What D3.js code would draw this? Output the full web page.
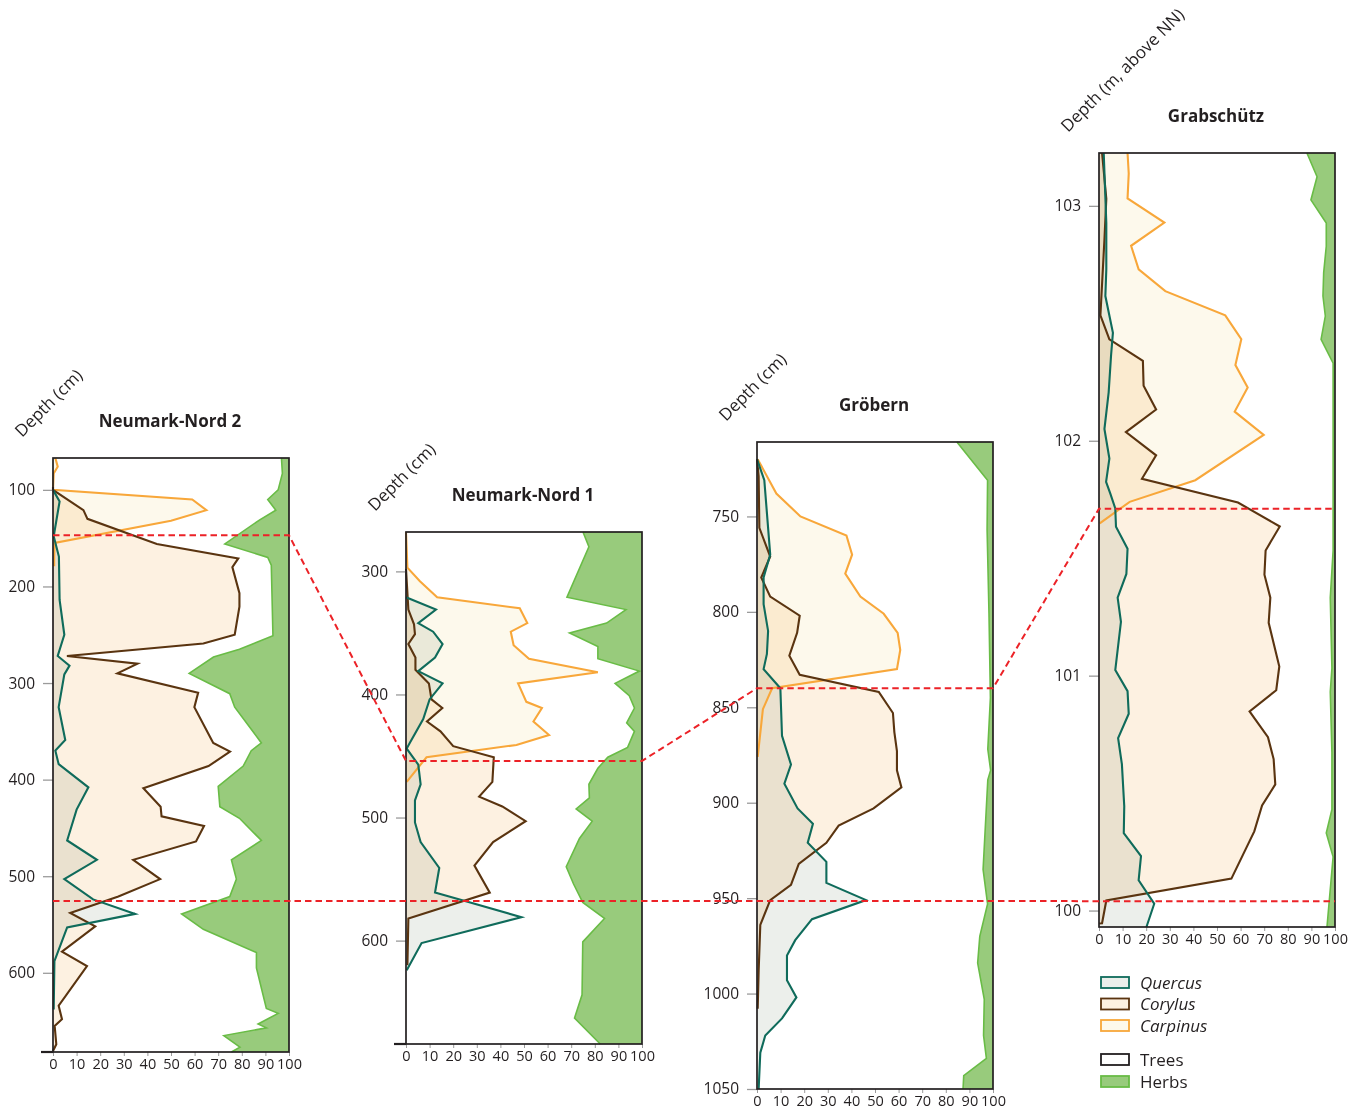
<!DOCTYPE html>
<html>
<head>
<meta charset="utf-8">
<script src="https://cdn.jsdelivr.net/npm/d3@7"></script>
<style>
  body { margin: 0; background: #fff; }
  svg { display: block; font-family: "Open Sans", sans-serif; }
</style>
</head>
<body>
<svg id="chart" width="1350" height="1112"></svg>
<script>
// --- data: [depth, %] ---
// Neumark-Nord 2 (cm)
const nn2Quercus = [[100,0],[112,2.8],[148,0.3],[169,2.5],[214,2.8],[250,4.8],[272,2],[282,7],[291,4.8],[325,2.4],[359,5.2],[370,1],[384,2.4],[408,15],[431,10],[463,6],[483,18.6],[503,4.8],[524,17],[539,34.8],[553,6],[588,0.6],[638,0.3]];
const nn2Corylus = [[97,0],[100,0],[121,12.9],[130,14.6],[156,44],[171,78.5],[180,76],[207,79],[221,79],[250,77],[259,63.7],[272,5.9],[280,35.8],[290,27.3],[310,61.5],[325,59.9],[362,67.9],[371,75],[386,65.9],[409,38.3],[428,45.6],[438,46],[448,64],[464,60.6],[483,34],[503,45.4],[521,27.7],[538,7.3],[552,17.9],[578,3.8],[593,14.4],[634,2.4],[648,3.8],[655,0.7],[674,1.4],[681,0]];
const nn2Carpinus = [[67,1],[76,2],[83,0.3],[100,0],[110,59],[121,65],[132,50],[155,0.7],[170,0.5],[179,0.5]];
const nn2Trees = [[67,96.8],[83,97.2],[100,95.4],[110,91],[121,94.4],[131,87.6],[156,72.8],[170,91],[178,92.5],[251,93.2],[265,79],[273,68],[290,57.7],[311,74.9],[325,77],[362,88.3],[370,84],[386,80.6],[407,70],[428,70.7],[440,79],[463,88.3],[483,75.6],[503,77.7],[521,74.9],[539,54.5],[555,63.7],[579,86.2],[595,86.2],[637,90.4],[642,95.4],[653,86.9],[657,90.4],[665,72.4],[677,79.2],[682,75.6]];

// Neumark-Nord 1 (cm)
const nn1Quercus = [[321,0],[331,12.7],[342,5.2],[349,11.5],[359,15.5],[370,12.3],[381,5.2],[391,15.5],[404,10],[420,7.3],[439,1.7],[444,0.3],[457,5.2],[473,6.2],[486,3.8],[504,3.8],[520,6.2],[541,14.1],[561,12.3],[567,23.5],[581,48.9],[602,6.6],[624,0.3]];
const nn1Corylus = [[298,0],[331,1],[343,3.4],[351,3.8],[359,1],[370,4],[380,4],[391,9.7],[404,10.8],[411,15.4],[422,8.9],[430,14.6],[442,20],[451,37.2],[471,36.6],[483,31],[491,40.8],[503,50.7],[520,36.9],[539,29],[561,35.5],[582,1],[620,0.6]];
const nn1Carpinus = [[268,0],[297,0.6],[308,5.9],[321,13.2],[330,48.2],[342,51.4],[349,44.4],[360,45.6],[371,52.1],[382,81.3],[391,47.5],[406,51],[411,57.6],[422,54],[433,60.6],[441,46.8],[451,8.7],[471,0.3]];
const nn1Trees = [[268,75],[280,77.5],[321,68.2],[331,93.2],[342,85],[350,69.3],[361,81.3],[371,81.3],[381,98.9],[391,88.6],[401,94.6],[411,96.8],[423,93.5],[430,96.8],[443,93.9],[451,85.5],[460,81.3],[473,77.5],[484,77.7],[493,72.1],[503,78.9],[517,73.5],[540,67.9],[554,71],[569,74.9],[582,84.1],[601,74.9],[644,74.6],[663,71.4],[684,82.3]];

// Gröbern (cm)
const grQuercus = [[720,0],[731,3.1],[770,5.6],[782,2.8],[796,2.8],[810,4.7],[822,4.2],[830,2.8],[840,9.9],[865,10.6],[880,14.4],[890,11.6],[903,17.2],[911,23.7],[921,21.5],[931,29.4],[942,29.4],[951,46.2],[961,23.3],[972,16.2],[980,12.7],[993,12.7],[1002,16.7],[1013,10.6],[1022,3.5],[1031,1.4],[1050,0.7]];
const grCorylus = [[720,0],[729,0.7],[756,1],[771,5.6],[782,1.8],[792,5.6],[802,18.1],[811,17],[823,13.7],[833,18.1],[842,51.6],[853,57.6],[863,58.2],[873,59.3],[883,59.3],[892,61.2],[903,49.4],[912,34.6],[921,29.4],[932,17.7],[943,14.4],[951,5.6],[964,1.4],[988,0.7],[1008,0.3]];
const grCarpinus = [[720,0.3],[738,8.2],[750,18.4],[760,37.9],[770,40.3],[780,37.4],[792,43.8],[801,53.7],[811,59.6],[820,60.7],[830,59.3],[840,6.4],[851,2.5],[876,0.3]];
const grTrees = [[711,84.7],[731,97.7],[757,97.5],[801,98.3],[845,98.9],[872,97.8],[883,99],[888,97.8],[935,95.8],[953,97.7],[970,94.4],[984,93.5],[1003,96.3],[1022,96],[1034,97.2],[1043,87.6],[1050,87.3]];

// Grabschütz (m above NN)
const gbQuercus = [[103.225,2],[102.927,3.1],[102.73,3.1],[102.616,2.7],[102.46,5.9],[102.362,5.1],[102.206,4.1],[102.05,2.3],[101.924,4.4],[101.825,3],[101.775,4.8],[101.712,6.9],[101.634,7.2],[101.54,12.1],[101.433,11.6],[101.332,7.9],[101.229,9.3],[101.024,6.9],[100.934,12.1],[100.838,12.6],[100.734,8.1],[100.623,9.7],[100.444,10.7],[100.33,10.5],[100.232,17.8],[100.129,16.8],[100.029,23.4],[99.93,20.1]];
const gbCorylus = [[103.225,1.3],[103.03,3.1],[102.856,2.3],[102.534,0.6],[102.432,4.4],[102.34,18.6],[102.234,18.9],[102.133,24.2],[102.037,11.4],[101.938,24.2],[101.838,18.2],[101.737,58.9],[101.635,76.6],[101.533,70.6],[101.43,70.1],[101.332,72.6],[101.225,71.9],[101.039,76.4],[100.938,75.1],[100.848,63.8],[100.738,71.6],[100.645,74],[100.537,74.7],[100.447,69.1],[100.337,65.8],[100.136,56.1],[100.043,3.1],[99.946,1.3],[99.945,0]];
const gbCarpinus = [[103.225,12.1],[103.138,12.6],[103.032,12.1],[102.929,27.7],[102.83,13.6],[102.73,16.8],[102.637,28.1],[102.534,53.5],[102.432,60.3],[102.322,57.8],[102.227,63],[102.124,57.5],[102.025,69.8],[101.832,40.8],[101.74,13],[101.648,0.3]];
const gbTrees = [[103.225,88.1],[103.124,92.4],[103.025,89.8],[102.927,96.3],[102.828,96.3],[102.715,95.2],[102.616,94.9],[102.531,95.9],[102.432,94.1],[102.33,99.2],[101.726,99.2],[101.533,99.2],[101.332,98],[101.032,98.7],[100.931,98],[100.673,98.7],[100.43,98.7],[100.33,96.3],[100.229,99.2],[99.93,96.6]];

const siteNames = ["Neumark-Nord 2", "Neumark-Nord 1", "Gröbern", "Grabschütz"];
const depthLabels = ["Depth (cm)", "Depth (cm)", "Depth (cm)", "Depth (m, above NN)"];
const depthDomains = [[67, 682], [268, 684], [711, 1050], [103.225, 99.93]];
const depthTicks = [[100, 200, 300, 400, 500, 600], [300, 400, 500, 600], [750, 800, 850, 900, 950, 1000, 1050], [100, 101, 102, 103]];
const pctTicks = [0, 10, 20, 30, 40, 50, 60, 70, 80, 90, 100];
const upperHorizon = [147, 454, 840, 101.711];
const lowerHorizon = [525.6, 567.8, 951.5, 100.04];
const taxa = ["Quercus", "Corylus", "Carpinus"];
const groups = ["Trees", "Herbs"];

const taxaData = [
  [nn2Quercus, nn2Corylus, nn2Carpinus],
  [nn1Quercus, nn1Corylus, nn1Carpinus],
  [grQuercus, grCorylus, grCarpinus],
  [gbQuercus, gbCorylus, gbCarpinus]
];
const treesData = [nn2Trees, nn1Trees, grTrees, gbTrees];

// --- layout / style ---
const frames = [
  { x0: 53, x1: 289, y0: 458, y1: 1052, stub: true },
  { x0: 406, x1: 642, y0: 532, y1: 1044, stub: true },
  { x0: 757, x1: 993, y0: 442, y1: 1089, stub: false },
  { x0: 1099, x1: 1335, y0: 153, y1: 927, stub: false }
];
const taxonStroke = { Quercus: "#0f6b5b", Corylus: "#5a3410", Carpinus: "#f8a73a" };
const taxonFill = { Quercus: "#ecefeb", Corylus: "#fdf1e1", Carpinus: "#fdf9ec" };
const herbFill = "#98cb7c", herbStroke = "#69bc46";
const ink = "#231f20";

const svg = d3.select("#chart");
const fillLayer = svg.append("g").style("isolation", "isolate");
const lineLayer = svg.append("g");
const axisLayer = svg.append("g");
const redLayer = svg.append("g");

const scales = frames.map((f, i) => ({
  x: d3.scaleLinear().domain([0, 100]).range([f.x0, f.x1]),
  y: d3.scaleLinear().domain(depthDomains[i]).range([f.y0, f.y1])
}));

frames.forEach((f, i) => {
  const { x, y } = scales[i];

  // taxon curves: filled from 0 to value
  const area = d3.area().y(d => y(d[0])).x0(x(0)).x1(d => x(d[1]));
  const line = d3.line().y(d => y(d[0])).x(d => x(d[1]));

  taxa.forEach((t, k) => {
    fillLayer.append("path")
      .attr("d", area(taxaData[i][k]))
      .attr("fill", taxonFill[t])
      .style("mix-blend-mode", "multiply");
  });

  // herbs: from tree boundary to 100
  const herbArea = d3.area().y(d => y(d[0])).x0(d => x(d[1])).x1(x(100));
  lineLayer.append("path")
    .attr("d", herbArea(treesData[i]))
    .attr("fill", herbFill);
  lineLayer.append("path")
    .attr("d", line(treesData[i]))
    .attr("fill", "none")
    .attr("stroke", herbStroke)
    .attr("stroke-width", 1.6);

  ["Carpinus", "Corylus", "Quercus"].forEach(t => {
    const k = taxa.indexOf(t);
    lineLayer.append("path")
      .attr("d", line(taxaData[i][k]))
      .attr("fill", "none")
      .attr("stroke", taxonStroke[t])
      .attr("stroke-width", 2.1)
      .attr("stroke-linejoin", "miter");
  });

  // axes
  const yAxis = axisLayer.append("g")
    .attr("transform", `translate(${f.x0},0)`)
    .call(d3.axisLeft(y).tickValues(depthTicks[i]).tickFormat(d3.format("d")).tickSize(10).tickPadding(8));
  yAxis.select(".domain").remove();
  yAxis.selectAll(".tick line").attr("stroke", "#9b9b9b").attr("stroke-width", 1.3);
  yAxis.selectAll(".tick text").attr("fill", ink).style("font-size", "15.5px").style("font-family", "Open Sans");

  const xAxis = axisLayer.append("g")
    .attr("transform", `translate(0,${f.y1})`)
    .call(d3.axisBottom(x).tickValues(pctTicks).tickSize(4).tickPadding(3));
  xAxis.select(".domain").remove();
  xAxis.selectAll(".tick line").attr("stroke", "#9b9b9b");
  xAxis.selectAll(".tick text").attr("fill", ink).style("font-size", "14.5px").style("font-family", "Open Sans");

  // frame
  axisLayer.append("rect")
    .attr("x", f.x0).attr("y", f.y0)
    .attr("width", f.x1 - f.x0).attr("height", f.y1 - f.y0)
    .attr("fill", "none").attr("stroke", ink).attr("stroke-width", 1.7);
  if (f.stub) {
    axisLayer.append("line")
      .attr("x1", f.x0 - 12).attr("x2", f.x0)
      .attr("y1", f.y1).attr("y2", f.y1)
      .attr("stroke", ink).attr("stroke-width", 2.2);
  }

  // titles
  axisLayer.append("text")
    .attr("x", (f.x0 + f.x1) / 2 - 1).attr("y", f.y0 - 31)
    .attr("text-anchor", "middle")
    .attr("fill", ink)
    .style("font-size", "17px").style("font-weight", "bold")
    .text(siteNames[i]);
  axisLayer.append("text")
    .attr("transform", `translate(${f.x0 - 31},${f.y0 - 20}) rotate(-45)`)
    .attr("fill", ink)
    .style("font-size", "17px")
    .text(depthLabels[i]);
});

// correlation horizons (red dashed)
const horizonLine = d3.line().x(d => d[0]).y(d => d[1]);
[upperHorizon, lowerHorizon].forEach(h => {
  const pts = [];
  frames.forEach((f, i) => {
    const yy = scales[i].y(h[i]);
    pts.push([f.x0, yy], [f.x1, yy]);
  });
  redLayer.append("path")
    .attr("d", horizonLine(pts))
    .attr("fill", "none")
    .attr("stroke", "#ec2227")
    .attr("stroke-width", 2)
    .attr("stroke-dasharray", "6.5,4");
});

// legend
const legend = svg.append("g").attr("transform", "translate(1101,977)");
const legendRows = [
  ...taxa.map(t => ({ name: t, fill: taxonFill[t], stroke: taxonStroke[t], italic: true })),
  { name: groups[0], fill: "#fff", stroke: ink, italic: false },
  { name: groups[1], fill: herbFill, stroke: herbStroke, italic: false }
];
const rowY = d3.scaleOrdinal().domain(legendRows.map(r => r.name)).range([0, 21.5, 43, 77, 99]);
legendRows.forEach(r => {
  const g = legend.append("g").attr("transform", `translate(0,${rowY(r.name)})`);
  g.append("rect").attr("x", 0).attr("y", 0).attr("width", 28).attr("height", 11)
    .attr("fill", r.fill).attr("stroke", r.stroke).attr("stroke-width", 1.8);
  g.append("text").attr("x", 39).attr("y", 11.5)
    .attr("fill", ink)
    .style("font-size", "17px")
    .style("font-style", r.italic ? "italic" : "normal")
    .text(r.name);
});
</script>
</body>
</html>
